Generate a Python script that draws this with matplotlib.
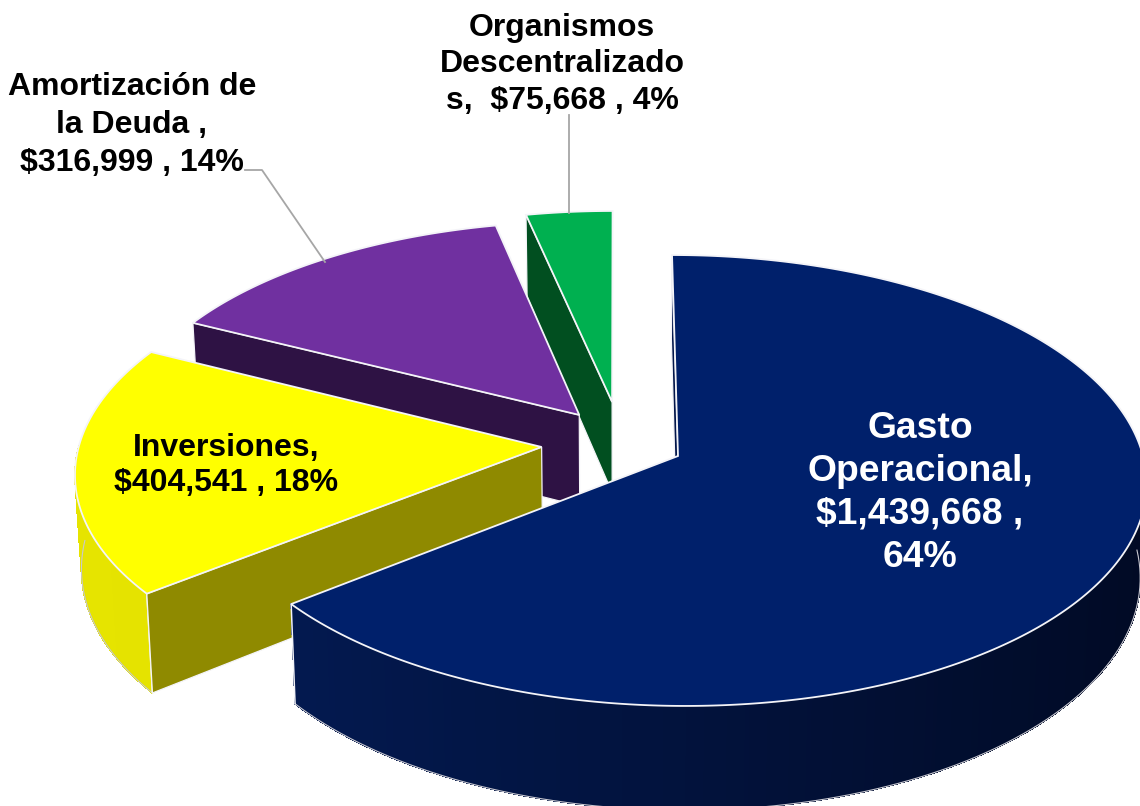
import matplotlib
matplotlib.use('Agg')
import matplotlib.pyplot as plt
import numpy as np
from matplotlib.colors import to_rgb

# Chart data, clockwise from 12 o'clock
values = [1439668, 404541, 316999, 75668]
percents = [64, 18, 14, 4]
names = ["Gasto\nOperacional,", "Inversiones,", "Amortización de\nla Deuda ,",
         "Organismos\nDescentralizado\ns, "]
breaks = ["\n", "\n", "\n", " "]
tail_breaks = [" ,\n", " , ", " , ", " , "]

# Slice styles
top_colors = ['#00206B', '#FFFF00', '#7030A0', '#00B050']
cut_colors = ['#02164A', '#8F8A00', '#2E1244', '#014F20']
wall_left = ['#031B55', '#E6E400', '#2E1244', '#014F20']
wall_right = ['#010A24', '#DEDC00', '#2E1244', '#014F20']
text_colors = ['white', 'black', 'black', 'black']
font_sizes = [26.8, 23, 23, 23]
label_x = [920, 226, 132, 562]
label_y = [493, 465.5, 125, 64.5]
line_gaps = [1.285, 1.2, 1.33, 1.27]
explode_x = [0.0, -0.294, -0.214, -0.142]
explode_y = [0.0, 0.0406, 0.188, 0.249]

# Perspective camera, in pixels
CX, CY = 678, 456
VX = 617
RX = 465
RY = 222.8
P = 0.1086
DEPTH = 93
SQUEEZE = 0.012


def project(wx, wy, depth=0.0):
    """Project points of the pie plane onto the image"""
    s = 1 / (1 + P * wy)
    x = VX + (CX - VX + RX * wx) * s
    y = CY - RY * wy * s + depth * s
    if depth:
        x = x + (VX - x) * SQUEEZE
    return x, y


def quad(ax, wx, wy, color, edge=None, lw=0.5, zorder=1, aa=True):
    x1, y1 = project(wx, wy)
    x2, y2 = project(wx[::-1], wy[::-1], DEPTH)
    ax.fill(np.r_[x1, x2], np.r_[y1, y2], facecolor=color,
            edgecolor=color if edge is None else edge, linewidth=lw, zorder=zorder,
            antialiased=aa)


fig = plt.figure(figsize=(11.4, 8.06), dpi=100)
ax = fig.add_axes([0, 0, 1, 1])
ax.set_xlim(0, 1140)
ax.set_ylim(806, 0)
ax.axis('off')

fractions = np.array(values) / sum(values)
edges = np.r_[0, np.cumsum(fractions)] * 2 * np.pi
EDGE = '#F4F4F8'

# Draw from the back slice to the front one
z = 1
for i in reversed(range(len(values))):
    ox, oy = explode_x[i], explode_y[i]
    theta = np.linspace(edges[i], edges[i + 1], max(int(np.degrees(edges[i + 1] - edges[i])), 2) * 2 + 1)
    rim_x = np.sin(theta) + ox
    rim_y = np.cos(theta) + oy

    # Outer wall, shaded by facet
    left, right = np.array(to_rgb(wall_left[i])), np.array(to_rgb(wall_right[i]))
    front = np.cos(theta) < 0
    for j in range(len(theta) - 1):
        if not front[j]:
            continue
        t = (np.sin(theta[j]) + 1) / 2
        quad(ax, rim_x[j:j + 2], rim_y[j:j + 2], tuple(left + (right - left) * t),
             zorder=z, aa=False)
    bx, by = project(rim_x[front], rim_y[front], DEPTH)
    ax.plot(bx, by, color='#C8C8D0', lw=0.8, zorder=z + 1)
    if front[0] or front[-1]:
        k = -1 if front[-1] else 0
        tx, ty = project(rim_x[k], rim_y[k])
        ax.plot([tx, bx[k]], [ty, by[k]], color=EDGE, lw=1.1, zorder=z + 1)
    z += 2

    # Only the first cut face can be seen
    quad(ax, np.array([ox, rim_x[0]]), np.array([oy, rim_y[0]]), cut_colors[i],
         edge=EDGE, lw=0.9, zorder=z)
    z += 1

    # Top face
    x, y = project(np.r_[ox, rim_x], np.r_[oy, rim_y])
    ax.fill(x, y, facecolor=top_colors[i], edgecolor=EDGE, linewidth=1.3,
            joinstyle='miter', zorder=z)
    z += 1

# Leader lines
ax.plot([245, 262, 325], [170, 170, 262], color='#A6A6A6', lw=1.3, zorder=z)
ax.plot([569, 569], [115, 213], color='#A6A6A6', lw=1.3, zorder=z)

# Labels
for i in range(len(values)):
    head = names[i] + breaks[i] + f"${values[i]:,}" + tail_breaks[i] + f"{percents[i]}%"
    ax.text(label_x[i], label_y[i], head, color=text_colors[i], fontsize=font_sizes[i],
            fontweight='bold', family='Liberation Sans', ha='center', va='center',
            multialignment='center', linespacing=line_gaps[i], zorder=z + 1)

fig.savefig('out.png', dpi=100, facecolor='white')
